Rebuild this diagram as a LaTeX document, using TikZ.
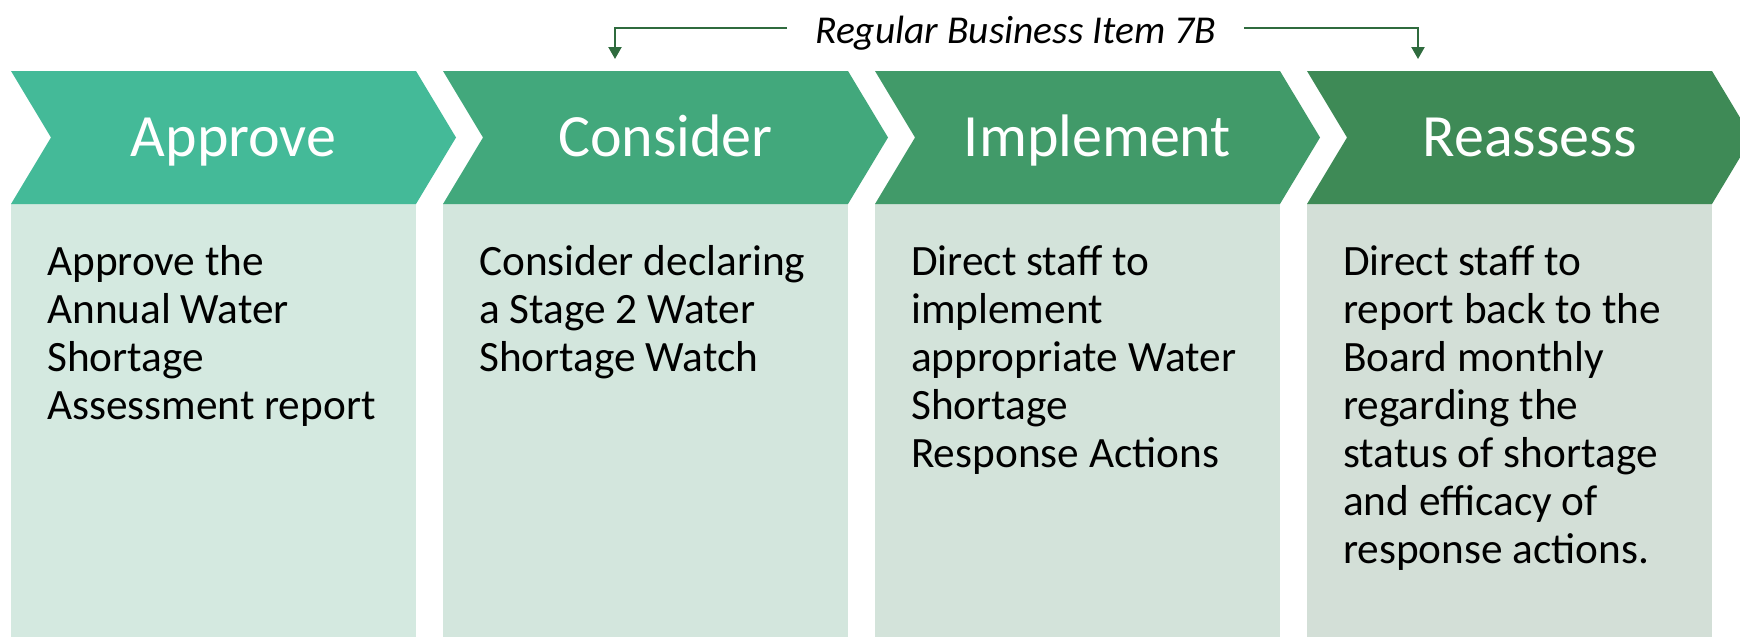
\documentclass[tikz,border=0pt]{standalone}
\usepackage{fontspec}
\setmainfont{Carlito}
\usetikzlibrary{arrows.meta}
\definecolor{cA}{RGB}{68,186,152}
\definecolor{cB}{RGB}{66,168,124}
\definecolor{cC}{RGB}{65,154,105}
\definecolor{cD}{RGB}{62,138,86}
\definecolor{bA}{RGB}{212,233,224}
\definecolor{bB}{RGB}{211,230,221}
\definecolor{bC}{RGB}{211,227,218}
\definecolor{bD}{RGB}{211,223,215}
\definecolor{linec}{RGB}{47,107,62}
\tikzset{
  headtext/.style={text=white, font=\fontsize{60}{72}\selectfont, inner sep=0pt, anchor=base},
  bodytext/.style={text=black, font=\fontsize{43.3}{48}\selectfont, inner sep=0pt, anchor=north west, align=left},
  arrowline/.style={draw=linec, line width=2.2pt, -{Triangle[width=13pt,length=12pt]}},
  lbltext/.style={font=\itshape\fontsize{39.5}{46}\selectfont, text height=31pt, text depth=0pt, inner ysep=0pt, inner xsep=28pt}
}
\newcommand\chevshape[3]{%
  \fill[#2] (#1,204) rectangle ++(405,433);
  \fill[#3] (#1,71) -- ++(405,0) -- ++(40,66.5) -- ++(-40,66.5) -- ++(-405,0) -- ++(40,-66.5) -- cycle;
}
\begin{document}
\begin{tikzpicture}[x=1pt,y=-1pt]
\useasboundingbox (0,0) rectangle (1740,637);
\begin{scope}
\clip (0,0) rectangle (1740,637);
\chevshape{11}{bA}{cA}
\chevshape{443}{bB}{cB}
\chevshape{875}{bC}{cC}
\chevshape{1307}{bD}{cD}
\end{scope}
\node[headtext] (h1) at (233.5,156) {Approve};
\node[headtext] (h2) at (665.5,156) {Consider};
\node[headtext] (h3) at (1097.5,156) {Implement};
\node[headtext] (h4) at (1529.5,156) {Reassess};
\node[bodytext] (t1) at (47,245) {Approve the\\Annual Water\\Shortage\\Assessment report};
\node[bodytext] (t2) at (479,245) {Consider declaring\\a Stage 2 Water\\Shortage Watch};
\node[bodytext] (t3) at (911,245) {Direct staff to\\implement\\appropriate Water\\Shortage\\Response Actions};
\node[bodytext] (t4) at (1343,245) {Direct staff to\\report back to the\\Board monthly\\regarding the\\status of shortage\\and efficacy of\\response actions.};
\node[lbltext] (lbl) at (1015.5,28.3) {Regular Business Item 7B};
\coordinate (endL) at (615,59);
\coordinate (endR) at (1418,59);
\draw[arrowline] (lbl.west) -| (endL);
\draw[arrowline] (lbl.east) -| (endR);
\end{tikzpicture}
\end{document}
